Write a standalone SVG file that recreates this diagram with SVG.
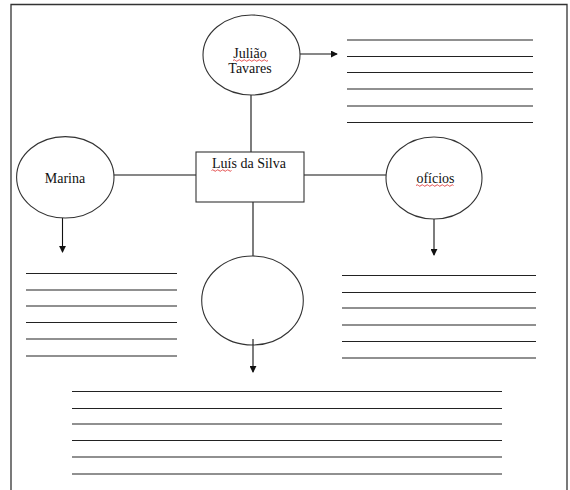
<svg xmlns="http://www.w3.org/2000/svg" width="570" height="490" viewBox="0 0 570 490">
<style>
.frame{stroke:#333;stroke-width:1.3;fill:none}
.shape{fill:#fff;stroke:#333;stroke-width:1.1}
.conn{stroke:#111;stroke-width:1.1;fill:none}
.rule{stroke:#222;stroke-width:1.1}
.lbl{font-family:"Liberation Serif","Times New Roman",serif;font-size:14px;fill:#111;text-anchor:middle}
.sq{stroke:#d22;stroke-width:0.8;fill:none}
</style>
<defs>
<marker id="ah" viewBox="0 0 8 8" refX="7" refY="4" markerWidth="7" markerHeight="7" markerUnits="userSpaceOnUse" orient="auto">
<path d="M0,0 L8,4 L0,8 Z" fill="#111"/>
</marker>
</defs>
<rect width="570" height="490" fill="#fff"/>
<path class="frame" d="M11,490 V4.5 H567 V490"/>
<g id="connectors">
<line class="conn" x1="251" y1="95" x2="251" y2="152"/>
<line class="conn" x1="253" y1="202" x2="253" y2="256"/>
<line class="conn" x1="114" y1="175" x2="196" y2="175"/>
<line class="conn" x1="304" y1="175" x2="386" y2="175"/>
<line class="conn" x1="300" y1="54" x2="337" y2="54" marker-end="url(#ah)"/>
<line class="conn" x1="62.5" y1="218" x2="62.5" y2="252" marker-end="url(#ah)"/>
<line class="conn" x1="434" y1="219" x2="434" y2="255" marker-end="url(#ah)"/>
<line class="conn" x1="253" y1="339" x2="253" y2="372" marker-end="url(#ah)"/>
</g>
<g id="juliao">
<ellipse class="shape" cx="251.5" cy="55" rx="48.5" ry="40"/>
<text class="lbl" x="250" y="58">Julião</text>
<text class="lbl" x="250" y="73">Tavares</text>
<path class="sq" d="M233,60.5 q1.25,-1.5 2.5,0 t2.5,0 t2.5,0 t2.5,0 t2.5,0 t2.5,0 t2.5,0 t2.5,0 t2.5,0 t2.5,0 t2.5,0 t2.5,0 t2.5,0 t2.5,0"/>
</g>
<g id="luis">
<rect class="shape" x="196" y="152" width="108" height="50"/>
<text class="lbl" x="249" y="168">Luís da Silva</text>
<path class="sq" d="M211.5,170.5 q1.25,-1.5 2.5,0 t2.5,0 t2.5,0 t2.5,0 t2.5,0 t2.5,0 t2.5,0 t2.5,0"/>
</g>
<g id="marina">
<ellipse class="shape" cx="65.3" cy="177.3" rx="48.7" ry="40.7"/>
<text class="lbl" x="65" y="183">Marina</text>
</g>
<g id="oficios">
<ellipse class="shape" cx="434" cy="178" rx="48" ry="41"/>
<text class="lbl" x="435.5" y="183">ofícios</text>
<path class="sq" d="M416,185.5 q1.25,-1.5 2.5,0 t2.5,0 t2.5,0 t2.5,0 t2.5,0 t2.5,0 t2.5,0 t2.5,0 t2.5,0 t2.5,0 t2.5,0 t2.5,0 t2.5,0 t2.5,0 t2.5,0"/>
</g>
<g id="empty">
<ellipse class="shape" cx="252.5" cy="300.5" rx="50.8" ry="44.5"/>
<line class="conn" x1="253" y1="339" x2="253" y2="345"/>
</g>
<g id="lines-top-right">
<line class="rule" x1="347" y1="40" x2="533" y2="40"/>
<line class="rule" x1="347" y1="56.5" x2="533" y2="56.5"/>
<line class="rule" x1="347" y1="72.5" x2="533" y2="72.5"/>
<line class="rule" x1="347" y1="89" x2="533" y2="89"/>
<line class="rule" x1="347" y1="106" x2="533" y2="106"/>
<line class="rule" x1="347" y1="122.5" x2="533" y2="122.5"/>
</g>
<g id="lines-left">
<line class="rule" x1="26" y1="273.5" x2="177" y2="273.5"/>
<line class="rule" x1="26" y1="290" x2="177" y2="290"/>
<line class="rule" x1="26" y1="306" x2="177" y2="306"/>
<line class="rule" x1="26" y1="322.5" x2="177" y2="322.5"/>
<line class="rule" x1="26" y1="339" x2="177" y2="339"/>
<line class="rule" x1="26" y1="356" x2="177" y2="356"/>
</g>
<g id="lines-right">
<line class="rule" x1="342" y1="275.5" x2="536" y2="275.5"/>
<line class="rule" x1="342" y1="292.5" x2="536" y2="292.5"/>
<line class="rule" x1="342" y1="308" x2="536" y2="308"/>
<line class="rule" x1="342" y1="325" x2="536" y2="325"/>
<line class="rule" x1="342" y1="341.5" x2="536" y2="341.5"/>
<line class="rule" x1="342" y1="358" x2="536" y2="358"/>
</g>
<g id="lines-bottom">
<line class="rule" x1="72" y1="391.5" x2="502" y2="391.5"/>
<line class="rule" x1="72" y1="408.5" x2="502" y2="408.5"/>
<line class="rule" x1="72" y1="424" x2="502" y2="424"/>
<line class="rule" x1="72" y1="440.5" x2="502" y2="440.5"/>
<line class="rule" x1="72" y1="457" x2="502" y2="457"/>
<line class="rule" x1="72" y1="474" x2="502" y2="474"/>
</g>
</svg>
